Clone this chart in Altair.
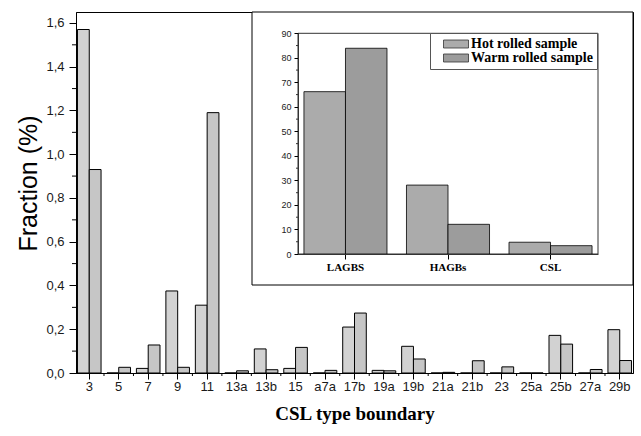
import altair as alt
import pandas as pd

# ---------------- data ----------------
categories = ["3", "5", "7", "9", "11", "13a", "13b", "15", "a7a", "17b",
              "19a", "19b", "21a", "21b", "23", "25a", "25b", "27a", "29b"]
hot_rolled = [1.57, 0.0, 0.021, 0.375, 0.31, 0.0, 0.11, 0.021, 0.0, 0.21,
              0.012, 0.122, 0.0, 0.0, 0.0, 0.0, 0.172, 0.0, 0.198]
warm_rolled = [0.93, 0.026, 0.128, 0.026, 1.19, 0.01, 0.015, 0.117, 0.012, 0.274,
               0.01, 0.064, 0.003, 0.056, 0.028, 0.0, 0.132, 0.016, 0.057]
series = ["Hot rolled sample", "Warm rolled sample"]

inset_categories = ["LAGBS", "HAGBs", "CSL"]
inset_hot = [66.2, 28.1, 4.8]
inset_warm = [83.9, 12.1, 3.4]

y_ticks = [0.0, 0.2, 0.4, 0.6, 0.8, 1.0, 1.2, 1.4, 1.6]
y_minor = [0.1, 0.3, 0.5, 0.7, 0.9, 1.1, 1.3, 1.5]
inset_ticks = [0, 10, 20, 30, 40, 50, 60, 70, 80, 90]
inset_minor = [5, 15, 25, 35, 45, 55, 65, 75, 85]

main_df = pd.DataFrame({
    "cat": categories * 2,
    "series": [series[0]] * len(categories) + [series[1]] * len(categories),
    "val": hot_rolled + warm_rolled,
})
inset_df = pd.DataFrame({
    "cat": inset_categories * 2,
    "series": [series[0]] * 3 + [series[1]] * 3,
    "val": inset_hot + inset_warm,
})
minor_x_df = pd.DataFrame({"cat": categories[1:]})
minor_y_df = pd.DataFrame({"v": y_minor})
inset_minor_df = pd.DataFrame({"v": inset_minor})

W, H = 557, 361

# ---------------- main chart ----------------
xscale = alt.Scale(type="band", paddingInner=0.2, paddingOuter=0.05)
yscale = alt.Scale(domain=[0, 1.65], nice=False)
xaxis = alt.Axis(title="CSL type boundary", labelAngle=0, labelFont="Liberation Sans",
                 labelFontSize=13, labelColor="#1a1a1a", labelPadding=1, tickSize=6,
                 titleFont="Liberation Serif", titleFontSize=19, titleFontWeight="bold",
                 titleColor="black", titlePadding=11)
yaxis = alt.Axis(title="Fraction (%)", values=y_ticks,
                 labelExpr="replace(format(datum.value, '.1f'), '.', ',')",
                 labelFont="Liberation Sans", labelFontSize=13, labelColor="#1a1a1a",
                 labelPadding=5, tickSize=7, grid=False,
                 titleFont="Liberation Sans", titleFontSize=25, titleFontWeight="normal",
                 titleColor="black", titlePadding=4, titleY=171)

main_bars = alt.Chart(main_df).mark_bar(stroke="black", strokeWidth=1).encode(
    x=alt.X("cat:N", sort=categories, scale=xscale, axis=xaxis),
    xOffset=alt.XOffset("series:N", sort=series, scale=alt.Scale(paddingInner=0, paddingOuter=0)),
    y=alt.Y("val:Q", scale=yscale, axis=yaxis),
    color=alt.Color("series:N", sort=series,
                    scale=alt.Scale(domain=series, range=["#d2d2d2", "#c6c6c6"]), legend=None),
)
minor_x = alt.Chart(minor_x_df).mark_rule(color="black", xOffset=-2.95).encode(
    x=alt.X("cat:N", sort=categories, scale=xscale, axis=xaxis, bandPosition=0),
    y=alt.value(H), y2=alt.value(H + 3),
)
minor_y = alt.Chart(minor_y_df).mark_rule(color="black").encode(
    y=alt.Y("v:Q", scale=yscale, axis=yaxis),
    x=alt.value(-4), x2=alt.value(0),
)
main = alt.layer(main_bars, minor_x, minor_y)

# ---------------- inset ----------------
frame = alt.Chart(pd.DataFrame({"k": [0]})).mark_rect(fill="white", stroke="black", strokeWidth=1).encode(
    x=alt.value(176), x2=alt.value(W), y=alt.value(0), y2=alt.value(273))
inner_frame = alt.Chart(pd.DataFrame({"k": [0]})).mark_rect(fill=None, stroke="#333", strokeWidth=1).encode(
    x=alt.value(222), x2=alt.value(522), y=alt.value(21.3), y2=alt.value(242))

ixscale = alt.Scale(type="band", range=[222, 522], paddingInner=0.19, paddingOuter=0.058)
iyscale = alt.Scale(domain=[0, 90], range=[242, 21.3], nice=False)
ixaxis = alt.Axis(title=None, orient="bottom", offset=-119, labelAngle=0, zindex=2,
                  labelFont="Liberation Serif", labelFontWeight="bold", labelFontSize=11,
                  labelColor="black", tickSize=5, labelPadding=2, domainColor="#333")
iyaxis = alt.Axis(title=None, orient="left", offset=-222, values=inset_ticks, grid=False, zindex=2,
                  labelFont="Liberation Sans", labelFontSize=9, labelColor="#222",
                  tickSize=4, labelPadding=3, domainColor="#333")

inset_bars = alt.Chart(inset_df).mark_bar(stroke="black", strokeWidth=0.8).encode(
    x=alt.X("cat:N", sort=inset_categories, scale=ixscale, axis=ixaxis),
    xOffset=alt.XOffset("series:N", sort=series, scale=alt.Scale(paddingInner=0, paddingOuter=0)),
    y=alt.Y("val:Q", scale=iyscale, axis=iyaxis),
    color=alt.Color("series:N", sort=series,
                    scale=alt.Scale(domain=series, range=["#ababab", "#9c9c9c"]),
                    legend=alt.Legend(title=None, orient="none", legendX=354, legendY=21,
                                      padding=4, strokeColor="#555", fillColor="white",
                                      symbolType="M-2.5,-0.8H2.5V0.8H-2.5Z", symbolSize=100,
                                      symbolOffset=15,
                                      symbolStrokeColor="#333", symbolStrokeWidth=0.8,
                                      labelFont="Liberation Serif", labelFontWeight="bold",
                                      labelFontSize=14, labelColor="black", labelOffset=8,
                                      rowPadding=0, zindex=2)),
)
inset_minor = alt.Chart(inset_minor_df).mark_rule(color="#333").encode(
    y=alt.Y("v:Q", scale=iyscale, axis=iyaxis),
    x=alt.value(220), x2=alt.value(222),
)
inset = alt.layer(inset_bars, inset_minor)

chart = alt.layer(main, frame, inner_frame, inset).resolve_scale(
    x="independent", y="independent", xOffset="independent", color="independent"
).properties(
    width=W, height=H,
    padding={"left": 76, "top": 12, "right": 8, "bottom": 63},
    autosize=alt.AutoSizeParams(type="none"),
    background="white",
).configure_view(stroke="black", strokeWidth=1).configure_axis(
    domainColor="black", tickColor="black"
)

chart.save("out.html", embed_options={"renderer": "svg", "actions": False})
